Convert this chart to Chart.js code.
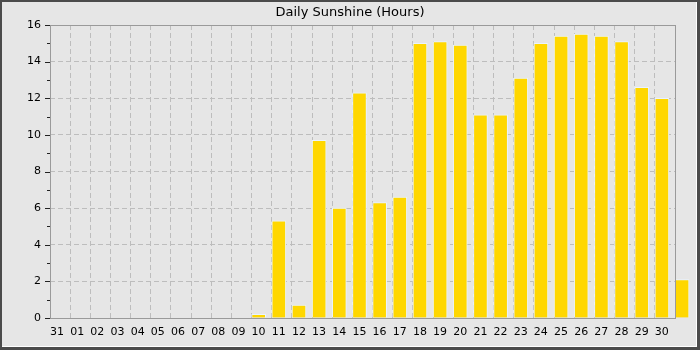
<!DOCTYPE html>
<html>
<head>
<meta charset="utf-8">
<script src="https://cdn.jsdelivr.net/npm/chart.js@4"></script>
<style>
  html, body { margin: 0; padding: 0; background: #e6e6e6; }
  #wrap { position: relative; width: 700px; height: 350px; }
  #frame { position: absolute; left: 0; top: 0; width: 700px; height: 350px; box-sizing: border-box;
           border: 2px solid #4b4b4b; border-right-width: 3px; border-bottom-width: 3px; pointer-events: none; }
  #frame div { position: absolute; left: 0; top: 0; right: 0; bottom: 0; border-right: 1px solid #fff; border-bottom: 1px solid #fff; }
</style>
</head>
<body>
<div id="wrap">
  <canvas id="sunChart" width="700" height="350"></canvas>
  <div id="frame"><div></div></div>
</div>
<script>
// Daily sunshine, one bar per day (last bar is the current day, no label)
const days = ['31', '01', '02', '03', '04', '05', '06', '07', '08', '09',
              '10', '11', '12', '13', '14', '15', '16', '17', '18', '19',
              '20', '21', '22', '23', '24', '25', '26', '27', '28', '29', '30', ''];
const sunHours = [0, 0, 0, 0, 0, 0, 0, 0, 0, 0,
                  0.2, 5.3, 0.7, 9.7, 6.0, 12.3, 6.3, 6.6, 15.0, 15.1,
                  14.9, 11.1, 11.1, 13.1, 15.0, 15.4, 15.5, 15.4, 15.1, 12.6, 12.0, 2.1];
const yMax = 16;
const slotCount = 31;   // labelled days inside the plot box
const barFrac = 0.7;    // bar starts at the slot's left gridline

const FONT = 'DejaVu Sans';

// plot frame + y ticks (major every 2, minor in between)
const framePlugin = {
  id: 'frame',
  afterDatasetsDraw(chart) {
    const { ctx, chartArea: a, scales: { y } } = chart;
    ctx.save();
    ctx.strokeStyle = '#9a9a9a';
    ctx.lineWidth = 1;
    ctx.strokeRect(Math.round(a.left) + 0.5, Math.round(a.top) + 0.5,
                   Math.round(a.right - a.left), Math.round(a.bottom - a.top));
    ctx.strokeStyle = '#222';
    for (let v = 0; v <= yMax; v++) {
      const py = Math.round(y.getPixelForValue(v)) + 0.5;
      const len = v % 2 === 0 ? 5 : 3;
      ctx.beginPath();
      ctx.moveTo(Math.round(a.left) - len, py);
      ctx.lineTo(Math.round(a.left), py);
      ctx.stroke();
    }
    ctx.restore();
  }
};

new Chart(document.getElementById('sunChart').getContext('2d'), {
  type: 'bar',
  data: {
    datasets: [{
      data: sunHours.map((v, i) => ({ x: i + barFrac / 2, y: v })),
      backgroundColor: '#ffd700',
      borderColor: '#eaf4ff',
      borderWidth: 1,
      barThickness: 14,
      clip: false
    }]
  },
  options: {
    responsive: false,
    animation: false,
    layout: { padding: 0 },
    plugins: {
      legend: { display: false },
      tooltip: { enabled: false },
      title: {
        display: true,
        text: 'Daily Sunshine (Hours)',
        color: '#000',
        font: { family: FONT, size: 13, weight: 'normal', lineHeight: '16px' },
        padding: { top: 5, bottom: 4 }
      }
    },
    scales: {
      x: {
        type: 'linear',
        min: 0,
        max: slotCount,
        offset: false,
        afterFit: s => { s.height = 32; },
        grid: {
          offset: false,
          drawTicks: false,
          color: c => (c.tick && (c.tick.value === 0 || c.tick.value === slotCount)) ? 'rgba(0,0,0,0)' : '#bdbdbd'
        },
        border: { display: false, dash: [5, 3] },
        ticks: {
          stepSize: 1,
          autoSkip: false,
          maxRotation: 0,
          labelOffset: 7,
          padding: 8,
          color: '#000',
          font: { family: FONT, size: 11 },
          callback: v => days[v] ?? ''
        }
      },
      y: {
        min: 0,
        max: yMax,
        afterFit: s => { s.width = 50; },
        grid: {
          drawTicks: false,
          color: c => (c.tick && c.tick.value % 2 === 0 && c.tick.value > 0 && c.tick.value < yMax) ? '#bdbdbd' : 'rgba(0,0,0,0)'
        },
        border: { display: false, dash: [5, 3] },
        ticks: {
          stepSize: 1,
          autoSkip: false,
          padding: 9,
          color: '#000',
          font: { family: FONT, size: 11 },
          callback: v => (v % 2 === 0 ? v : '')
        }
      },
      // empty right margin so the title stays centred on the whole picture
      yRight: {
        type: 'linear',
        position: 'right',
        min: 0,
        max: yMax,
        afterFit: s => { s.width = 25; },
        grid: { display: false },
        border: { display: false },
        ticks: { display: false }
      }
    }
  },
  plugins: [framePlugin]
});
</script>
</body>
</html>
